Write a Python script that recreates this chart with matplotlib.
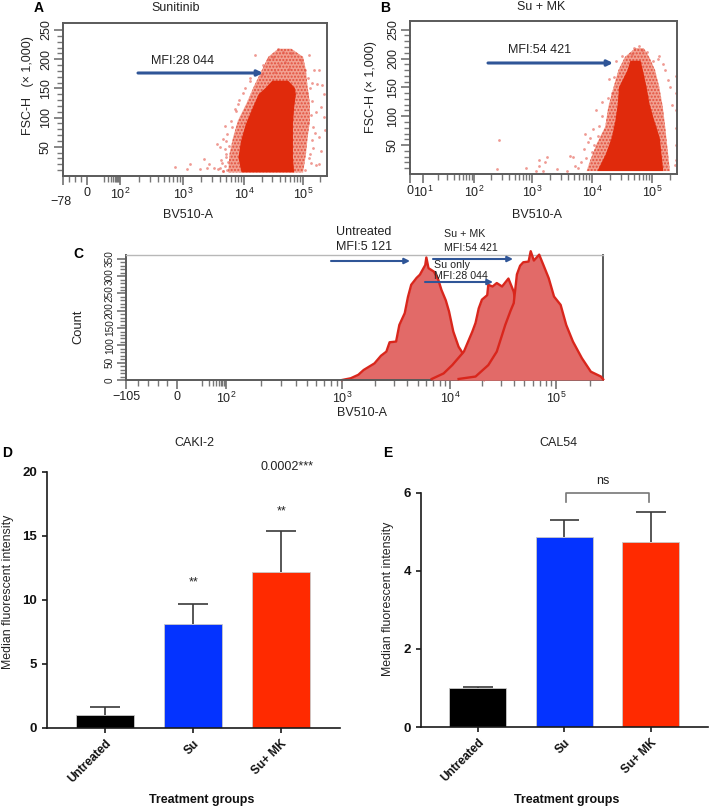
import numpy as np
import matplotlib
matplotlib.use("Agg")
import matplotlib.pyplot as plt

plt.rcParams['font.family'] = ['Liberation Sans', 'DejaVu Sans']
plt.rcParams['mathtext.default'] = 'regular'

W, H = 709, 810
TXT = '#222222'
ARROW = '#2f5597'
CORE = '#e02a0c'
HALO = '#f2a091'
DOT = '#e4574a'

# panel A: outline of the dense cloud (log10 BV510, FSC x1000)
a_core_fsc = [7, 32, 60, 89, 118, 141, 152, 164]
a_core_lo = [3.95, 3.90, 3.94, 4.02, 4.14, 4.24, 4.36, 4.47]
a_core_hi = [4.84, 4.82, 4.82, 4.82, 4.84, 4.87, 4.85, 4.74]
a_halo_fsc = [6, 37, 66, 95, 124, 152, 181, 204, 218]
a_halo_lo = [3.74, 3.76, 3.82, 3.90, 4.04, 4.16, 4.30, 4.41, 4.58]
a_halo_hi = [5.00, 5.05, 5.08, 5.12, 5.12, 5.08, 5.05, 5.00, 4.80]
# panel A: single events outside the cloud
a_pts_x = [2.87, 3.12, 3.07, 3.28, 3.42, 3.50, 3.56, 3.61, 3.64, 3.72, 4.58, 4.66, 4.41, 4.49, 4.18, 4.80,
           4.97, 5.11, 4.30, 4.32, 5.03, 5.19, 5.28, 4.10, 5.25, 5.33, 5.36, 5.31, 5.36, 5.39, 5.28, 5.31,
           5.28, 3.85, 3.90, 3.68, 3.65, 3.71, 3.60, 3.34, 3.40, 3.57, 3.68, 3.70, 3.66, 3.78, 3.74, 3.86,
           3.92, 3.98, 4.02, 4.10, 5.04, 5.10, 5.14, 5.18, 5.22, 5.12, 5.16, 5.20, 5.08, 5.14, 5.18, 5.22,
           5.16, 5.12, 5.08, 5.06, 5.16, 4.60, 4.52, 4.70, 4.76, 3.62, 3.68, 3.72, 3.66, 3.70, 3.76, 3.80]
a_pts_y = [16, 20, 12, 12, 20, 14, 54, 14, 22, 72, 218, 213, 201, 204, 207, 210,
           198, 207, 175, 190, 181, 181, 181, 167, 158, 155, 141, 118, 101, 78, 66, 43,
           20, 115, 124, 86, 63, 60, 49, 29, 14, 12, 17, 38, 8, 95, 24, 112,
           130, 142, 150, 162, 10, 30, 22, 48, 18, 38, 62, 74, 90, 104, 84, 110,
           128, 150, 168, 142, 160, 190, 178, 196, 184, 28, 46, 10, 8, 32, 52, 84]

# panel B: outline of the dense cloud
b_core_fsc = [6, 35, 64, 93, 122, 151, 180, 197]
b_core_lo = [4.08, 4.22, 4.32, 4.38, 4.42, 4.44, 4.58, 4.63]
b_core_hi = [5.18, 5.15, 5.12, 5.03, 4.95, 4.90, 4.84, 4.80]
b_halo_fsc = [5, 24, 53, 82, 116, 151, 180, 203, 218]
b_halo_lo = [3.91, 3.97, 4.08, 4.22, 4.27, 4.36, 4.44, 4.55, 4.72]
b_halo_hi = [5.30, 5.28, 5.25, 5.22, 5.18, 5.12, 5.05, 4.95, 4.86]
# panel B: single events outside the cloud
b_pts_x = [2.43, 2.39, 2.89, 3.11, 3.25, 3.22, 3.11, 3.06, 3.19, 3.42, 3.58, 3.64, 3.72, 3.81, 3.89, 3.94,
           4.06, 4.11, 3.86, 4.00, 4.17, 4.28, 4.36, 3.90, 3.76, 3.68, 3.96, 4.02, 4.70, 4.78, 4.66, 4.84,
           4.92, 5.02, 5.12, 5.22, 5.30, 5.40, 5.40, 5.41, 5.40, 5.41, 5.40, 5.38, 5.34, 5.26, 5.18, 5.10,
           4.40, 4.50, 4.34, 4.26, 4.16, 4.10, 4.04]
b_pts_y = [59, 9, 10, 24, 29, 20, 14, 6, 6, 9, 6, 32, 14, 20, 70, 55,
           110, 84, 43, 38, 125, 165, 168, 28, 10, 30, 62, 78, 218, 221, 208, 214,
           212, 195, 205, 180, 150, 170, 140, 110, 80, 50, 25, 15, 120, 162, 190, 200,
           196, 205, 140, 132, 100, 66, 50]

# panel C: histograms (log10 BV510, count)
untreated_x = [3.00, 3.08, 3.15, 3.20, 3.30, 3.36, 3.41, 3.44, 3.50, 3.53, 3.58, 3.61, 3.64, 3.69, 3.72, 3.77,
               3.78, 3.80, 3.85, 3.89, 3.92, 3.96, 3.99, 4.03, 4.08, 4.12, 4.16, 4.21, 4.27, 4.32]
untreated_y = [0, 5, 15, 29, 48, 70, 82, 109, 111, 159, 193, 240, 275, 295, 304, 332,
               354, 323, 313, 290, 260, 230, 198, 140, 96, 77, 50, 25, 5, 0]
su_x = [3.83, 3.94, 4.02, 4.13, 4.21, 4.24, 4.27, 4.30, 4.35, 4.36, 4.40, 4.44, 4.49, 4.55, 4.60, 4.62,
        4.65, 4.70, 4.74, 4.84, 4.93]
su_y = [3, 19, 43, 82, 140, 165, 207, 232, 245, 275, 270, 280, 270, 293, 255, 217,
        170, 120, 80, 20, 3]
mk_x = [4.08, 4.24, 4.36, 4.44, 4.49, 4.52, 4.57, 4.60, 4.63, 4.66, 4.69, 4.74, 4.76, 4.79, 4.84, 4.88,
        4.93, 4.98, 5.04, 5.09, 5.15, 5.23, 5.31, 5.40, 5.47]
mk_y = [3, 10, 43, 82, 130, 159, 200, 222, 305, 330, 340, 342, 372, 345, 362, 332,
        294, 241, 217, 159, 111, 63, 24, 10, 2]

# panels D and E
groups = ['Untreated', 'Su', 'Su+ MK']
bar_colors = ['#000000', '#0433ff', '#ff2a00']
caki_vals = [1.05, 8.1, 12.2]
caki_err = [0.55, 1.6, 3.15]
cal_vals = [1.0, 4.87, 4.75]
cal_err = [0.03, 0.43, 0.75]


def px_axes(x0, y0, x1, y1):
    return fig.add_axes([x0 / W, 1 - y1 / H, (x1 - x0) / W, (y1 - y0) / H])


def ftext(x, y, s, **kw):
    kw.setdefault('color', TXT)
    kw.setdefault('fontsize', 9)
    kw.setdefault('ha', 'center')
    kw.setdefault('va', 'center')
    fig.text(x / W, 1 - y / H, s, **kw)


def farrow(x0, x1, y, lw=2.2):
    fig.add_artist(matplotlib.patches.FancyArrowPatch(
        (x0 / W, 1 - y / H), (x1 / W, 1 - y / H), transform=fig.transFigure,
        arrowstyle='-|>', mutation_scale=8, lw=lw, color=ARROW, shrinkA=0, shrinkB=0))


def flow_scale(ax, us, pxs, lim):
    # flow cytometry biexponential axis, kept as a piecewise scale
    def u_of(x):
        x = np.asarray(x, dtype=float)
        return np.where(x >= 10, np.log10(np.maximum(x, 10)), x / 10)

    def fwd(x):
        return np.interp(u_of(x), us, pxs, left=pxs[0], right=pxs[-1])

    def inv(p):
        u = np.interp(p, pxs, us)
        return np.where(u >= 1, 10.0 ** u, u * 10)

    ax.set_xscale('function', functions=(fwd, inv))
    ax.set_xlim(*lim)


def decade_ticks(first, last):
    return [m * 10 ** k for k in range(first, last) for m in range(2, 10)]


def flow_style(ax, ylabels, yvals, yminor, xticks, xlabels, xminor):
    ax.set_xticks(xticks)
    ax.set_xticklabels(xlabels, fontsize=9, color=TXT)
    ax.set_xticks(xminor, minor=True)
    ax.set_yticks(yvals)
    ax.set_yticklabels(ylabels, fontsize=9, color=TXT, rotation=90, va='center')
    ax.set_yticks(yminor, minor=True)
    ax.tick_params(which='major', length=6.5, width=1.1, color='#666666', pad=1.5)
    ax.tick_params(which='minor', length=4, width=1.0, color='#777777')
    for s in ax.spines.values():
        s.set_color('#5a5a5a')
        s.set_linewidth(1.4)


def cloud(ax, hf, hl, hh, cf, cl, ch, px_, py_):
    ax.fill_betweenx(hf, 10.0 ** np.array(hl), 10.0 ** np.array(hh), facecolor=HALO,
                     edgecolor='#e2503d', hatch='.....', lw=0)
    ax.fill_betweenx(cf, 10.0 ** np.array(cl), 10.0 ** np.array(ch), color=CORE, lw=0)
    ax.scatter(10.0 ** np.array(px_), py_, s=4, color=DOT, alpha=0.6, lw=0)


fig = plt.figure(figsize=(W / 100, H / 100), dpi=100)

fsc_ticks = [50, 100, 150, 200, 250]
fsc_minor = list(range(10, 260, 10))

# A
ax = px_axes(63, 23, 327, 176)
flow_scale(ax, [-7.8, 0, 2, 3, 4, 5, 5.42], [63, 87, 120, 183, 244, 303, 327], (-78, 262144))
cloud(ax, a_halo_fsc, a_halo_lo, a_halo_hi, a_core_fsc, a_core_lo, a_core_hi, a_pts_x, a_pts_y)
ax.set_ylim(0, 262)
flow_style(ax, fsc_ticks, fsc_ticks, fsc_minor,
           [-78, 0, 100, 1000, 10000, 100000],
           ['', '0', '$10^{2}$', '$10^{3}$', '$10^{4}$', '$10^{5}$'],
           [-60, -40, -20, 10, 20, 30, 40, 50, 60, 70, 80, 90] + decade_ticks(2, 5) + [200000])
ftext(61, 202, '\u221278')
ftext(176, 8, 'Sunitinib')
ftext(39, 8, 'A', fontweight='bold', fontsize=10, color='black')
ftext(28, 86, 'FSC-H   (\u00d7 1,000)', rotation=90)
ftext(188, 215, 'BV510-A')
ftext(183, 61, 'MFI:28 044')
farrow(138, 263, 73)

# B
ax = px_axes(410, 21, 677, 174)
flow_scale(ax, [0, 1, 2, 3, 4, 5, 5.42], [410, 423, 474, 532, 592, 652, 677], (0, 262144))
cloud(ax, b_halo_fsc, b_halo_lo, b_halo_hi, b_core_fsc, b_core_lo, b_core_hi, b_pts_x, b_pts_y)
ax.set_ylim(0, 265)
flow_style(ax, fsc_ticks, fsc_ticks, fsc_minor,
           [0, 10, 100, 1000, 10000, 100000],
           ['0', '$10^{1}$', '$10^{2}$', '$10^{3}$', '$10^{4}$', '$10^{5}$'],
           decade_ticks(1, 5) + [200000])
ftext(385, 8, 'B', fontweight='bold', fontsize=10, color='black')
ftext(541, 7, 'Su + MK')
ftext(371, 87, 'FSC-H (\u00d7 1,000)', rotation=90)
ftext(537, 215, 'BV510-A')
ftext(540, 50, 'MFI:54 421')
farrow(488, 613, 63)

# C
ax = px_axes(126, 255, 603, 380)
flow_scale(ax, [-10.5, 0, 2, 3, 4, 5, 5.42], [126, 177, 226, 342, 450, 556, 603], (-105, 262144))
for hx, hy, z in [(untreated_x, untreated_y, 2), (su_x, su_y, 3), (mk_x, mk_y, 4)]:
    vals = 10.0 ** np.array(hx)
    ax.fill_between(vals, hy, 0, color='#e26a68', lw=0, zorder=z, clip_on=False)
    ax.plot(vals, hy, color='#d9261c', lw=1.7, zorder=z, clip_on=False)
ax.set_ylim(0, 361)
count_ticks = [0, 50, 100, 150, 200, 250, 300, 350]
flow_style(ax, count_ticks, count_ticks, list(range(10, 360, 10)),
           [-105, 0, 100, 1000, 10000, 100000],
           ['\u2212105', '0', '$10^{2}$', '$10^{3}$', '$10^{4}$', '$10^{5}$'],
           [-80, -60, -40, -20, 10, 20, 30, 40, 50, 60, 70, 80, 90] + decade_ticks(2, 5) + [200000])
ax.tick_params(axis='y', labelsize=7.2)
ax.spines['top'].set_color('#b8b8b8')
ax.spines['top'].set_linewidth(1.0)
ftext(78, 254, 'C', fontweight='bold', fontsize=10, color='black')
ftext(78, 327, 'Count', rotation=90, fontsize=9.3)
ftext(362, 413, 'BV510-A')
ftext(336, 232, 'Untreated', ha='left')
ftext(336, 247, 'MFI:5 121', ha='left')
ftext(444, 234, 'Su + MK', ha='left', fontsize=7.7)
ftext(444, 248, 'MFI:54 421', ha='left', fontsize=7.7)
ftext(434, 265, 'Su only', ha='left', fontsize=7.7)
ftext(434, 276, 'MFI:28 044', ha='left', fontsize=7.7)
farrow(331, 410, 261, lw=1.5)
farrow(433, 513, 259, lw=1.5)
farrow(425, 493, 282, lw=1.5)


def bars(ax, vals, errs, ymax, yticks):
    xs = np.arange(len(groups))
    tops = np.array(vals) + np.array(errs)
    ax.bar(xs, vals, width=0.66, color=bar_colors, edgecolor='#c9c9c9', linewidth=0.6, zorder=2)
    ax.vlines(xs, vals, tops, color='#3a3a3a', lw=1.2, zorder=1)
    ax.hlines(tops, xs - 0.17, xs + 0.17, color='#3a3a3a', lw=1.2, zorder=1)
    ax.set_ylim(0, ymax)
    ax.set_yticks(yticks)
    ax.set_yticklabels(yticks, fontsize=9.5, fontweight='bold', color='#111111')
    ax.set_xticks(xs)
    ax.set_xticklabels(groups, fontsize=8.6, fontweight='bold', color='#111111',
                       rotation=45, ha='right', rotation_mode='anchor')
    ax.spines['top'].set_visible(False)
    ax.spines['right'].set_visible(False)
    for s in ['left', 'bottom']:
        ax.spines[s].set_linewidth(1.2)
        ax.spines[s].set_color('#1a1a1a')
    ax.tick_params(length=3.8, width=1.2, color='#1a1a1a', pad=3)


# D
ax = px_axes(46.7, 471.7, 340, 728)
ax.set_xlim(-0.662, 2.67)
bars(ax, caki_vals, caki_err, 20, [0, 5, 10, 15, 20])
ftext(7, 453, 'D', fontweight='bold', fontsize=10, color='black')
ftext(194, 443, 'CAKI-2')
ftext(287, 467, '0.0002***')
ftext(194, 582, '**')
ftext(282, 511, '**')
ftext(8, 592, 'Median fluorescent intensity', rotation=90, fontsize=8.9)
ftext(202, 800, 'Treatment groups', fontweight='bold', color='#111111')

# E
ax = px_axes(420.7, 492.7, 708, 727)
ax.set_xlim(-0.66, 2.66)
bars(ax, cal_vals, cal_err, 6, [0, 2, 4, 6])
ftext(388, 453, 'E', fontweight='bold', fontsize=10, color='black')
ftext(558, 443, 'CAL54')
ftext(603, 481, 'ns')
ftext(388, 599, 'Median fluorescent intensity', rotation=90, fontsize=8.9)
ftext(567, 800, 'Treatment groups', fontweight='bold', color='#111111')
ax.plot([1.02, 1.02, 1.98, 1.98], [5.77, 6.0, 6.0, 5.77], color='#777777', lw=1.2, clip_on=False)

fig.savefig('out.png', dpi=100)
